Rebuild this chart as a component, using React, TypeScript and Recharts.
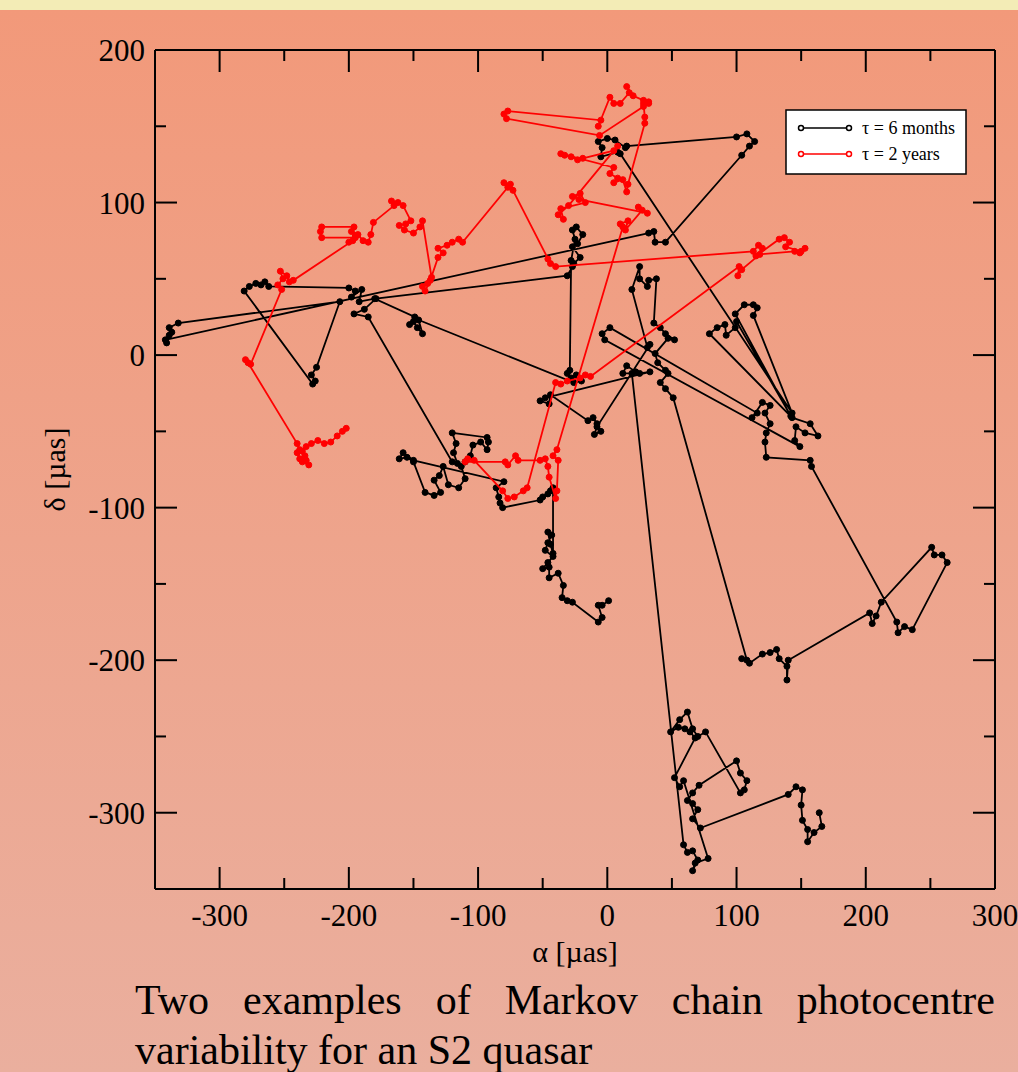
import { ScatterChart, Scatter, XAxis, YAxis } from 'recharts'

// alpha / delta in micro-arcseconds, in walk order
const sixMonthWalk: [number, number][] = [
  [1, -161], [-4, -164], [-7, -164], [-4, -172], [-7, -175],
  [-27, -162], [-31, -161], [-35, -159], [-34, -151],
  [-38, -143], [-45, -146], [-45, -139], [-50, -140], [-46, -136], [-42, -132], [-48, -128], [-46, -123], [-43, -118], [-46, -116], [-44, -124], [-42, -130],
  [-42, -87], [-44, -89], [-46, -91], [-50, -93], [-52, -95],
  [-81, -100], [-83, -97], [-84, -93], [-86, -87], [-80, -83],
  [-150, -69], [-158, -64], [-161, -68], [-155, -67], [-150, -70],
  [-141, -90], [-134, -92], [-129, -90], [-134, -82], [-130, -79], [-127, -73], [-123, -85], [-115, -87], [-110, -81], [-113, -73], [-110, -70], [-106, -66], [-104, -59], [-98, -57], [-93, -62], [-92, -57], [-93, -54],
  [-120, -51], [-117, -58], [-119, -64], [-116, -71], [-120, -70],
  [-185, 25], [-196, 27], [-188, 30], [-179, 37],
  [-31, 52], [-27, 58], [-26, 60], [-21, 64], [-27, 71], [-23, 73], [-19, 79], [-24, 84], [-27, 82], [-25, 76], [-28, 62],
  [-29, -10], [-31, -12], [-28, -15], [-24, -13], [-20, -17], [-26, -18],
  [-146, 23], [-143, 14], [-147, 18], [-150, 22], [-153, 20], [-149, 25],
  [-180, 37], [-192, 35], [-190, 43], [-198, 38], [-195, 42], [-200, 44],
  [-262, 45], [-265, 48], [-268, 46], [-272, 47], [-277, 45], [-281, 42],
  [-228, -19], [-226, -17], [-229, -13], [-225, -8],
  [-207, 35],
  [-332, 21], [-339, 18], [-337, 15], [-339, 13], [-341, 8], [-342, 10],
  [32, 80], [36, 81], [37, 74], [45, 74],
  [104, 131], [110, 137], [114, 140], [108, 145], [100, 143],
  [15, 137], [14, 136], [6, 141], [0, 142], [-7, 140], [-4, 136], [-5, 130], [8, 133], [10, 132],
  [143, -38],
  [113, 26], [116, 31], [113, 33], [106, 33], [99, 27],
  [142, -40],
  [100, 22], [99, 18], [92, 13], [91, 20], [85, 18], [79, 14],
  [143, -41], [157, -45], [163, -53], [153, -51], [146, -47], [145, -56], [149, -60],
  [-2, 10], [-4, 14], [2, 18],
  [116, -38], [112, -41], [120, -31], [126, -33], [122, -38], [126, -45], [123, -51], [122, -57], [123, -67],
  [157, -69], [158, -73],
  [224, -175], [225, -182], [230, -178], [236, -180],
  [263, -136], [259, -131], [253, -131], [251, -126],
  [212, -162], [208, -171], [205, -176], [203, -169],
  [140, -200], [139, -213], [139, -204], [133, -199], [131, -193], [126, -195], [120, -196], [110, -202], [104, -199], [108, -200],
  [51, -28], [45, -22], [41, -18], [47, -12], [45, -10], [39, -5], [37, 1], [47, 11], [52, 10], [45, 14], [41, 18], [36, 21],
  [38, 50], [32, 49], [31, 45], [25, 50], [25, 58], [19, 43],
  [31, 5], [33, 7],
  [-8, -47], [-10, -52], [-5, -50], [-8, -45], [-11, -41], [-15, -43],
  [-44, -26], [-45, -32], [-52, -30], [-48, -28],
  [33, -11], [25, -12], [12, -12], [15, -7], [22, -11], [19, -12],
  [59, -321], [62, -326], [66, -325], [70, -331], [66, -338], [68, -333], [78, -330],
  [59, -279], [56, -283], [52, -277],
  [68, -251], [64, -247], [60, -245], [55, -244], [49, -247], [56, -239], [62, -234], [66, -245], [70, -250], [76, -247],
  [103, -287], [106, -285], [108, -279], [103, -274], [100, -266],
  [71, -282], [66, -287], [62, -292], [66, -294], [70, -298], [66, -304], [72, -310],
  [140, -288], [146, -283], [151, -285], [150, -295], [151, -305], [155, -311], [155, -319], [160, -313], [166, -309], [164, -300],
]

const twoYearWalk: [number, number][] = [
  [-202, -48], [-205, -50], [-209, -53], [-214, -57], [-219, -58], [-224, -56], [-229, -58], [-233, -60], [-236, -63], [-234, -66], [-238, -68], [-240, -64], [-236, -70], [-231, -72], [-233, -69], [-238, -62], [-240, -58],
  [-278, -5], [-280, -3], [-276, -6],
  [-252, 43], [-255, 46], [-251, 50], [-253, 55], [-248, 52], [-246, 48], [-243, 49],
  [-197, 75], [-195, 78], [-200, 74], [-195, 77],
  [-221, 77], [-222, 81], [-221, 84],
  [-196, 84], [-198, 81], [-193, 79], [-189, 75], [-185, 74], [-183, 79], [-181, 87],
  [-165, 98], [-167, 101], [-162, 100], [-158, 98],
  [-152, 88], [-156, 86], [-161, 85], [-157, 82], [-150, 80], [-145, 84], [-143, 88],
  [-136, 51], [-139, 47], [-143, 45], [-141, 42], [-137, 49],
  [-131, 64], [-127, 67], [-131, 70], [-124, 72], [-120, 74], [-115, 76], [-112, 74],
  [-77, 110], [-80, 113], [-75, 112], [-73, 108],
  [-44, 60], [-46, 63], [-40, 58],
  [113, 68], [117, 72], [120, 70], [115, 65],
  [133, 76], [137, 77], [141, 74], [138, 71],
  [150, 68], [153, 70], [149, 67], [145, 68],
  [118, 66],
  [104, 56], [101, 52], [102, 58],
  [-13, -14], [-17, -13], [-21, -15],
  [-31, -17], [-36, -19], [-40, -18],
  [-62, -87], [-65, -89], [-72, -93], [-77, -94], [-81, -89],
  [-103, -69], [-108, -68], [-110, -70],
  [-79, -70], [-77, -72], [-71, -66], [-69, -69],
  [-52, -69], [-48, -68], [-46, -73], [-45, -80], [-40, -94], [-39, -89], [-38, -69], [-42, -66], [-39, -62],
  [12, 84], [10, 86], [16, 88], [14, 82],
  [27, 95], [24, 97], [31, 93],
  [-22, 102], [-27, 104], [-21, 106], [-17, 100],
  [-36, 96], [-34, 89], [-38, 92], [-30, 98],
  [8, 137], [5, 134],
  [-19, 129], [-23, 128], [-28, 130], [-33, 131], [-36, 132],
  [5, 123], [2, 119], [8, 116], [5, 113], [12, 115], [15, 107], [16, 112],
  [29, 152], [29, 156], [28, 165], [32, 165], [28, 167], [20, 170], [15, 176], [17, 172], [10, 165], [5, 165], [2, 169],
  [-7, 150], [-5, 154],
  [-77, 160], [-80, 158], [-78, 155],
  [-6, 144],
  [28, 163], [32, 166],
]

const xTicks = [-300, -250, -200, -150, -100, -50, 0, 50, 100, 150, 200, 250, 300]
const yTicks = [-300, -250, -200, -150, -100, -50, 0, 50, 100, 150, 200]

const serif = "'Liberation Serif', 'DejaVu Serif', serif"

const toPoints = (walk: [number, number][]) => walk.map(([x, y]) => ({ x, y }))

function XTick({ x, y, payload, side }: any) {
  const major = payload.value % 100 === 0
  const len = major ? 22 : 11
  const dir = side === 'bottom' ? -1 : 1
  return (
    <g>
      <line x1={x} y1={y} x2={x} y2={y + dir * len} stroke="#000" strokeWidth={2} />
      {side === 'bottom' && major && (
        <text x={x} y={y + 37} textAnchor="middle" fontSize={31} fontFamily={serif} fill="#000">
          {payload.value}
        </text>
      )}
    </g>
  )
}

function YTick({ x, y, payload, side }: any) {
  const major = payload.value % 100 === 0
  const len = major ? 22 : 11
  const dir = side === 'left' ? 1 : -1
  return (
    <g>
      <line x1={x} y1={y} x2={x + dir * len} y2={y} stroke="#000" strokeWidth={2} />
      {side === 'left' && major && (
        <text x={x - 10} y={y + 11} textAnchor="end" fontSize={31} fontFamily={serif} fill="#000">
          {payload.value}
        </text>
      )}
    </g>
  )
}

const dot = (color: string) => (p: any) => <circle cx={p.cx} cy={p.cy} r={3} fill={color} stroke={color} strokeWidth={1} />

export default function App() {
  const axisLine = { stroke: '#000', strokeWidth: 2 }
  return (
    <div
      style={{
        position: 'absolute', left: 0, top: 0, width: 1018, height: 1072, overflow: 'hidden',
        background: 'linear-gradient(#f3ecb6 0px, #f3ecb6 10px, #f2997a 10px, #eaaf9e 100%)',
      }}
    >
      <ScatterChart width={1018} height={1072} margin={{ top: 49, right: 22, bottom: 182, left: 154 }} style={{ position: 'absolute', left: 0, top: 0 }}>
        <XAxis
          xAxisId="bottom" type="number" dataKey="x" domain={[-350, 300]} ticks={xTicks} interval={0}
          allowDataOverflow height={1} tickSize={0} tickMargin={0} tickLine={false} axisLine={axisLine}
          tick={<XTick side="bottom" />}
          label={{
            content: ({ viewBox }: any) => (
              <text x={viewBox.x + viewBox.width / 2} y={viewBox.y + 73} textAnchor="middle" fontSize={30} fontFamily={serif} fill="#000">
                α [µas]
              </text>
            ),
          }}
        />
        <XAxis
          xAxisId="top" orientation="top" type="number" dataKey="x" domain={[-350, 300]} ticks={xTicks} interval={0}
          allowDataOverflow height={1} tickSize={0} tickMargin={0} tickLine={false} axisLine={axisLine}
          tick={<XTick side="top" />}
        />
        <YAxis
          yAxisId="left" type="number" dataKey="y" domain={[-350, 200]} ticks={yTicks} interval={0}
          allowDataOverflow width={1} tickSize={0} tickMargin={0} tickLine={false} axisLine={axisLine}
          tick={<YTick side="left" />}
          label={{
            content: ({ viewBox }: any) => {
              const cx = viewBox.x - 96
              const cy = viewBox.y + viewBox.height / 2
              return (
                <text x={cx} y={cy} transform={`rotate(-90 ${cx} ${cy})`} textAnchor="middle" dominantBaseline="middle" fontSize={30} fontFamily={serif} fill="#000">
                  δ [µas]
                </text>
              )
            },
          }}
        />
        <YAxis
          yAxisId="right" orientation="right" type="number" dataKey="y" domain={[-350, 200]} ticks={yTicks} interval={0}
          allowDataOverflow width={1} tickSize={0} tickMargin={0} tickLine={false} axisLine={axisLine}
          tick={<YTick side="right" />}
        />
        <Scatter
          name="τ = 6 months" xAxisId="bottom" yAxisId="left" data={toPoints(sixMonthWalk)}
          line={{ stroke: '#000', strokeWidth: 1.8 }} shape={dot('#000')} isAnimationActive={false}
        />
        <Scatter
          name="τ = 2 years" xAxisId="top" yAxisId="right" data={toPoints(twoYearWalk)}
          line={{ stroke: '#ff0000', strokeWidth: 1.8 }} shape={dot('#ff0000')} isAnimationActive={false}
        />
      </ScatterChart>

      <svg width={182} height={66} style={{ position: 'absolute', left: 785, top: 109 }}>
        <rect x={1} y={1} width={180} height={64} fill="#fff" stroke="#000" strokeWidth={1.5} />
        {[
          { label: 'τ = 6 months', color: '#000', y: 19 },
          { label: 'τ = 2 years', color: '#ff0000', y: 45 },
        ].map(e => (
          <g key={e.label}>
            <line x1={16} y1={e.y} x2={64} y2={e.y} stroke={e.color} strokeWidth={1.5} />
            <circle cx={16} cy={e.y} r={2.5} fill="#fff" stroke={e.color} strokeWidth={1.5} />
            <circle cx={64} cy={e.y} r={2.5} fill="#fff" stroke={e.color} strokeWidth={1.5} />
            <text x={77} y={e.y + 6} fontSize={18} fontFamily={serif} fill="#000">{e.label}</text>
          </g>
        ))}
      </svg>

      <div
        style={{
          position: 'absolute', left: 135, top: 975, width: 860, fontSize: 42, lineHeight: '50px',
          fontFamily: serif, textAlign: 'justify', color: '#000',
        }}
      >
        Two examples of Markov chain photocentre variability for an S2 quasar
      </div>
    </div>
  )
}
